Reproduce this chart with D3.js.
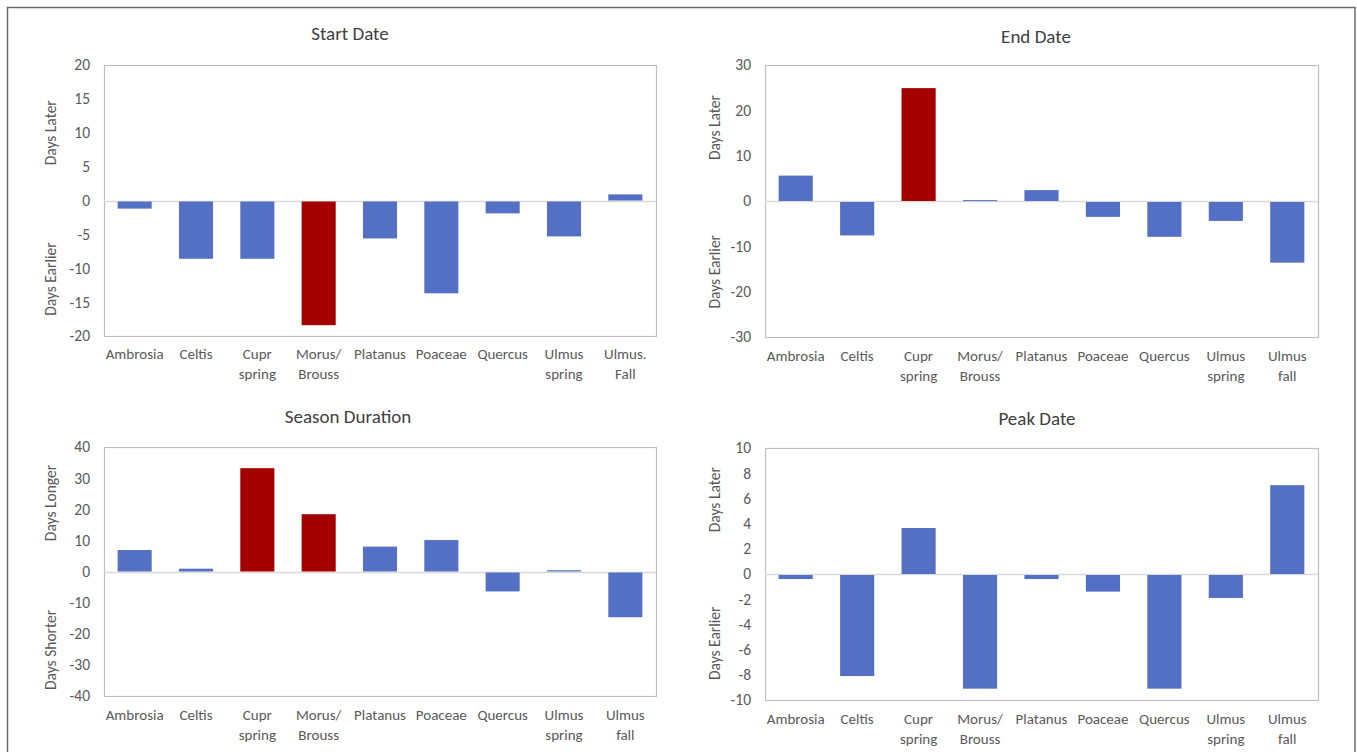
<!DOCTYPE html>
<html>
<head>
<meta charset="utf-8">
<script src="https://cdn.jsdelivr.net/npm/d3@7"></script>
<style>
  html, body { margin: 0; padding: 0; background: #ffffff; }
  svg { display: block; }
  text { font-family: Carlito, Lato, "Liberation Sans", sans-serif; }
</style>
</head>
<body>
<svg id="chart" width="1357" height="752"></svg>
<script>
// ---------- DATA ----------
const categoriesStart = ["Ambrosia", "Celtis", "Cupr|spring", "Morus/|Brouss", "Platanus", "Poaceae", "Quercus", "Ulmus|spring", "Ulmus.|Fall"];
const categoriesOther = ["Ambrosia", "Celtis", "Cupr|spring", "Morus/|Brouss", "Platanus", "Poaceae", "Quercus", "Ulmus|spring", "Ulmus|fall"];

const startDate      = [-1.2, -8.6, -8.6, -18.4, -5.6, -13.7, -1.9, -5.3, 0.9];
const endDate        = [5.6, -7.6, 24.9, 0.2, 2.4, -3.5, -7.9, -4.4, -13.6];
const seasonDuration = [6.9, 0.9, 33.2, 18.4, 8.0, 10.1, -6.4, 0.4, -14.7];
const peakDate       = [-0.4, -8.1, 3.65, -9.1, -0.4, -1.4, -9.1, -1.9, 7.05];

// highlighted (red) bars, by category index
const startHighlight    = [3];
const endHighlight      = [2];
const durationHighlight = [2, 3];
const peakHighlight     = [];

const startTicks    = [-20, -15, -10, -5, 0, 5, 10, 15, 20];
const endTicks      = [-30, -20, -10, 0, 10, 20, 30];
const durationTicks = [-40, -30, -20, -10, 0, 10, 20, 30, 40];
const peakTicks     = [-10, -8, -6, -4, -2, 0, 2, 4, 6, 8, 10];

// ---------- STYLE / LAYOUT ----------
const BLUE = "#5470c4";
const RED = "#a40000";
const FONT = "Carlito, Lato, 'Liberation Sans', sans-serif";

const panels = [
  { title: "Start Date", cats: categoriesStart, vals: startDate, hi: startHighlight, ticks: startTicks,
    upper: "Days Later", lower: "Days Earlier",
    x0: 104, x1: 656, y0: 65, y1: 336, titleX: 350, titleY: 35, axX: 52, upF: 0.25, loF: 0.79, catY: 355 },
  { title: "End Date", cats: categoriesOther, vals: endDate, hi: endHighlight, ticks: endTicks,
    upper: "Days Later", lower: "Days Earlier",
    x0: 765, x1: 1318, y0: 65, y1: 337, titleX: 1036, titleY: 38, axX: 716, upF: 0.23, loF: 0.76, catY: 357 },
  { title: "Season Duration", cats: categoriesOther, vals: seasonDuration, hi: durationHighlight, ticks: durationTicks,
    upper: "Days Longer", lower: "Days Shorter",
    x0: 104, x1: 656, y0: 447, y1: 696, titleX: 348, titleY: 418, axX: 52, upF: 0.225, loF: 0.815, catY: 716 },
  { title: "Peak Date", cats: categoriesOther, vals: peakDate, hi: peakHighlight, ticks: peakTicks,
    upper: "Days Later", lower: "Days Earlier",
    x0: 765, x1: 1318, y0: 448, y1: 700, titleX: 1037, titleY: 420, axX: 716, upF: 0.205, loF: 0.775, catY: 720 }
];

const svg = d3.select("#chart");

// outer frame
svg.append("rect")
  .attr("x", 7.5).attr("y", 7.5)
  .attr("width", 1347.5).attr("height", 770)
  .attr("fill", "none").attr("stroke", "#6b6b6b").attr("stroke-width", 1.5);

panels.forEach(p => {
  const g = svg.append("g");
  const lo = d3.min(p.ticks), hi = d3.max(p.ticks);
  const y = d3.scaleLinear().domain([lo, hi]).range([p.y1, p.y0]);
  const x = d3.scaleBand().domain(d3.range(p.cats.length)).range([p.x0, p.x1]).padding(0);
  const barW = x.bandwidth() / 1.8;

  // title
  g.append("text")
    .attr("x", p.titleX).attr("y", p.titleY)
    .attr("text-anchor", "middle").attr("dominant-baseline", "middle")
    .attr("font-size", 19).attr("fill", "#404040")
    .text(p.title);

  // plot box
  g.append("rect")
    .attr("x", p.x0 + 0.5).attr("y", p.y0 + 0.5)
    .attr("width", p.x1 - p.x0).attr("height", p.y1 - p.y0)
    .attr("fill", "none").attr("stroke", "#bfbfbf").attr("stroke-width", 1.2);

  // zero line
  g.append("line")
    .attr("x1", p.x0).attr("x2", p.x1)
    .attr("y1", Math.round(y(0)) + 0.5).attr("y2", Math.round(y(0)) + 0.5)
    .attr("stroke", "#d9d9d9").attr("stroke-width", 1.5);

  // y axis labels via d3 axis
  const yAxis = d3.axisLeft(y).tickValues(p.ticks).tickSize(0).tickPadding(14).tickFormat(d => String(d));
  const ya = g.append("g").attr("transform", `translate(${p.x0},0)`).call(yAxis);
  ya.select(".domain").remove();
  ya.selectAll("text").attr("font-size", 15.5).attr("fill", "#595959")
    .attr("font-family", FONT);

  // bars
  g.selectAll("rect.bar").data(p.vals).enter().append("rect")
    .attr("class", "bar")
    .attr("x", (d, i) => x(i) + (x.bandwidth() - barW) / 2)
    .attr("width", barW)
    .attr("y", d => d >= 0 ? y(d) : y(0) + 1)
    .attr("height", d => Math.max(1, Math.abs(y(d) - y(0)) - (d >= 0 ? 0 : 1)))
    .attr("fill", (d, i) => p.hi.includes(i) ? RED : BLUE);

  // category labels
  p.cats.forEach((c, i) => {
    const lines = c.split("|");
    const cx = x(i) + x.bandwidth() / 2;
    const t = g.append("text")
      .attr("x", cx)
      .attr("y", p.catY)
      .attr("text-anchor", "middle").attr("dominant-baseline", "middle")
      .attr("font-size", 15).attr("fill", "#595959");
    lines.forEach((l, k) => {
      t.append("tspan").attr("x", cx).attr("dy", k === 0 ? 0 : 20).text(l);
    });
  });

  // axis titles (rotated)
  const yUp = p.y0 + (p.y1 - p.y0) * p.upF;
  const yLo = p.y0 + (p.y1 - p.y0) * p.loF;
  [[p.upper, yUp], [p.lower, yLo]].forEach(([txt, yy]) => {
    g.append("text")
      .attr("transform", `translate(${p.axX},${yy}) rotate(-90)`)
      .attr("text-anchor", "middle").attr("dominant-baseline", "middle")
      .attr("font-size", 15.5).attr("fill", "#595959")
      .text(txt);
  });
});
</script>
</body>
</html>
